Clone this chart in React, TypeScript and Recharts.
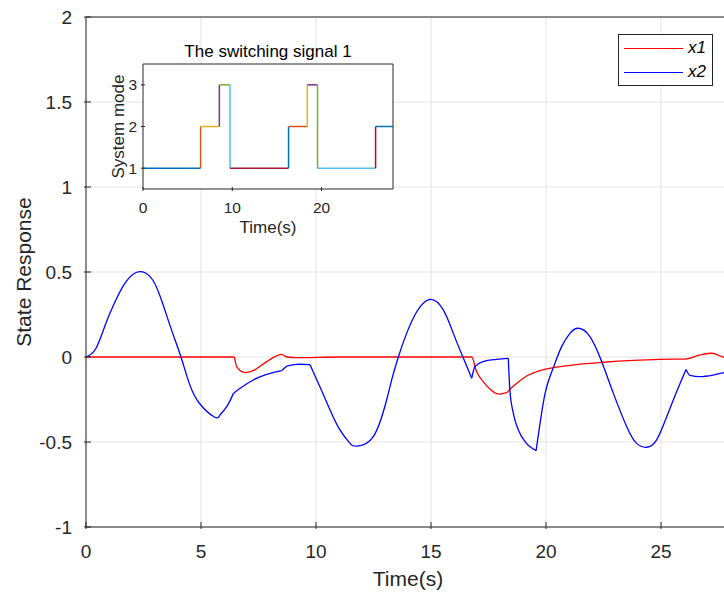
import { LineChart, Line, XAxis, YAxis, CartesianGrid, Legend, Label } from "recharts";

// State response of x1/x2 under switching, with the switching signal as an inset.

const x1Time = [0, 3, 6.43, 6.55, 6.91, 7.27, 7.86, 8.51, 8.73, 9.16, 11, 13, 15, 16.77, 16.98, 17.27, 17.57, 17.93, 18.29, 18.43, 18.73, 19.16, 19.74, 20.32, 21.4, 22.49, 24.96, 26.04, 26.7, 27.2, 27.74, 28];
const x1Value = [0, 0, 0, -0.057, -0.092, -0.08, -0.027, 0.016, 0, -0.004, 0, 0, 0, 0, -0.086, -0.145, -0.19, -0.218, -0.21, -0.19, -0.155, -0.112, -0.08, -0.063, -0.043, -0.031, -0.014, -0.012, 0.012, 0.022, -0.002, -0.01];

const x2Time = [0, 0.43, 0.87, 1.3, 1.74, 2.32, 2.9, 3.33, 3.77, 4.13, 4.49, 4.93, 5.58, 5.83, 6.12, 6.41, 6.7, 7.27, 7.86, 8.51, 8.73, 9.16, 9.74, 10.17, 10.61, 11.04, 11.48, 11.77, 12.49, 13.07, 13.29, 13.58, 13.94, 14.38, 14.96, 15.54, 15.97, 16.41, 16.77, 16.91, 17.27, 17.86, 18.36, 18.43, 18.58, 18.8, 19.09, 19.57, 19.74, 19.96, 20.17, 20.39, 20.68, 21.04, 21.41, 21.91, 22.42, 22.93, 23.51, 23.94, 24.38, 24.81, 25.25, 25.68, 26.09, 26.26, 26.7, 27.27, 27.74, 28];
const x2Value = [0, 0.05, 0.2, 0.335, 0.443, 0.502, 0.453, 0.316, 0.139, 0, -0.155, -0.272, -0.353, -0.341, -0.292, -0.214, -0.184, -0.135, -0.102, -0.08, -0.053, -0.043, -0.045, -0.175, -0.312, -0.429, -0.508, -0.524, -0.469, -0.253, -0.135, 0, 0.139, 0.266, 0.339, 0.276, 0.139, -0.008, -0.125, -0.057, -0.027, -0.014, -0.008, -0.194, -0.331, -0.429, -0.498, -0.551, -0.39, -0.214, -0.116, -0.037, 0.061, 0.139, 0.169, 0.12, -0.027, -0.214, -0.41, -0.508, -0.531, -0.488, -0.351, -0.204, -0.073, -0.108, -0.115, -0.106, -0.092, -0.09];
// times where x2 has a corner (mode switches); curves are smooth between them
const x2Breaks = [6.41, 8.51, 8.73, 9.74, 16.77, 18.36, 19.57, 26.09];
const x2Curves = ["natural", "natural", "linear", "natural", "natural", "monotone", "monotone", "natural", "monotone"];

const mainXTicks = [0, 5, 10, 15, 20, 25];
const mainYTicks = [-1, -0.5, 0, 0.5, 1, 1.5, 2];

const switchTimes = [0, 6.45, 8.55, 9.75, 16.3, 18.4, 19.55, 26.05, 28];
const modes = [1, 2, 3, 1, 2, 3, 1, 2];
const insetXTicks = [0, 10, 20];
const insetYTicks = [1, 2, 3];
const modeColors = ["#0072BD", "#D95319", "#EDB120", "#7E2F8E", "#77AC30", "#4DBEEE", "#A2142F"];

const AXIS = "#262626";
const FONT = '"Liberation Sans", Arial, Helvetica, sans-serif';

const x1Data = x1Time.map((t, i) => ({ t, v: x1Value[i] }));
const x2Data = x2Time.map((t, i) => ({ t, v: x2Value[i] }));
const x2Pieces = x2Curves.map((_, k) => {
  const lo = k === 0 ? -Infinity : x2Breaks[k - 1];
  const hi = k === x2Breaks.length ? Infinity : x2Breaks[k];
  return x2Data.filter((d) => d.t >= lo && d.t <= hi);
});

// stairs: horizontal run at each mode, then the vertical jump to the next one
const modeSegments: { t: number; m: number }[][] = [];
modes.forEach((m, i) => {
  modeSegments.push([
    { t: switchTimes[i], m },
    { t: switchTimes[i + 1], m },
  ]);
  if (i < modes.length - 1) {
    modeSegments.push([
      { t: switchTimes[i + 1], m },
      { t: switchTimes[i + 1], m: modes[i + 1] },
    ]);
  }
});

// MATLAB-style inward ticks
const leftTick = (len: number, gap: number, size: number) => (p: any) => (
  <g>
    <line x1={p.x} x2={p.x + len} y1={p.y} y2={p.y} stroke={AXIS} />
    <text x={p.x - gap} y={p.y} textAnchor="end" dominantBaseline="central" fontSize={size} fill={AXIS}>
      {p.payload.value}
    </text>
  </g>
);
const rightTick = (len: number) => (p: any) => (
  <line x1={p.x} x2={p.x - len} y1={p.y} y2={p.y} stroke={AXIS} />
);
const bottomTick = (len: number, gap: number, size: number) => (p: any) => (
  <g>
    <line x1={p.x} x2={p.x} y1={p.y} y2={p.y - len} stroke={AXIS} />
    <text x={p.x} y={p.y + gap} textAnchor="middle" fontSize={size} fill={AXIS}>
      {p.payload.value}
    </text>
  </g>
);
const topTick = (len: number) => (p: any) => (
  <line x1={p.x} x2={p.x} y1={p.y} y2={p.y + len} stroke={AXIS} />
);

function LegendBox(props: any) {
  // x2 is drawn in pieces; keep one entry per series
  const items = (props.payload || []).filter(
    (e: any, i: number, all: any[]) => all.findIndex((o) => o.value === e.value) === i
  );
  return (
    <div
      style={{
        width: 95,
        height: 52,
        boxSizing: "border-box",
        border: `1px solid ${AXIS}`,
        background: "#fff",
        paddingTop: 1,
        fontFamily: FONT,
      }}
    >
      {items.map((e: any) => (
        <div key={e.value} style={{ display: "flex", alignItems: "center", height: 24 }}>
          <span style={{ display: "inline-block", width: 59, marginLeft: 5, borderTop: `1.3px solid ${e.color}` }} />
          <span style={{ marginLeft: 5, fontStyle: "italic", fontSize: 17, color: "#000" }}>{e.value}</span>
        </div>
      ))}
    </div>
  );
}

export default function App() {
  return (
    <div
      style={{
        position: "absolute",
        left: 0,
        top: 0,
        width: 724,
        height: 592,
        overflow: "hidden",
        background: "#fff",
        fontFamily: FONT,
      }}
    >
      <LineChart width={730} height={592} margin={{ top: 16, right: 0, bottom: 0, left: 0 }}>
        <CartesianGrid stroke="#e3e3e3" />
        <XAxis
          type="number"
          dataKey="t"
          domain={[0, 28]}
          ticks={mainXTicks}
          interval={0}
          height={65}
          axisLine={{ stroke: AXIS }}
          tickLine={false}
          tickSize={0}
          tick={bottomTick(7, 29, 19)}
        >
          <Label value="Time(s)" position="insideBottom" offset={6} style={{ fontSize: 21, fill: AXIS }} />
        </XAxis>
        <XAxis
          xAxisId="top"
          orientation="top"
          type="number"
          domain={[0, 28]}
          ticks={mainXTicks}
          interval={0}
          height={1}
          axisLine={{ stroke: AXIS }}
          tickLine={false}
          tickSize={0}
          tick={topTick(7)}
        />
        <YAxis
          type="number"
          domain={[-1, 2]}
          ticks={mainYTicks}
          interval={0}
          width={86}
          axisLine={{ stroke: AXIS }}
          tickLine={false}
          tickSize={0}
          tick={leftTick(7, 12, 19)}
        >
          <Label
            value="State Response"
            angle={-90}
            position="insideLeft"
            offset={24}
            style={{ textAnchor: "middle", fontSize: 21, fill: AXIS }}
          />
        </YAxis>
        <Legend
          layout="vertical"
          align="center"
          verticalAlign="middle"
          wrapperStyle={{ left: 618, top: 34, width: 95, height: 52 }}
          content={LegendBox}
        />
        <Line data={x1Data} dataKey="v" name="x1" type="monotone" stroke="#ff0000" strokeWidth={1.3} dot={false} isAnimationActive={false} />
        {x2Pieces.map((piece, k) => (
          <Line
            key={k}
            data={piece}
            dataKey="v"
            name="x2"
            type={x2Curves[k] as any}
            stroke="#0000ff"
            strokeWidth={1.3}
            dot={false}
            legendType={k === 0 ? "line" : "none"}
            isAnimationActive={false}
          />
        ))}
      </LineChart>

      <div style={{ position: "absolute", left: 100, top: 30 }}>
        <LineChart width={300} height={210} margin={{ top: 0, right: 6, bottom: 0, left: 0 }}>
          <CartesianGrid horizontal={false} vertical={false} fill="#fff" />
          <XAxis
            type="number"
            dataKey="t"
            domain={[0, 28]}
            ticks={insetXTicks}
            interval={0}
            height={51}
            axisLine={{ stroke: AXIS }}
            tickLine={false}
            tickSize={0}
            tick={bottomTick(4, 22, 15.5)}
          >
            <Label value="Time(s)" position="insideBottom" offset={7} style={{ fontSize: 17, fill: AXIS }} />
          </XAxis>
          <XAxis
            xAxisId="top"
            orientation="top"
            type="number"
            domain={[0, 28]}
            ticks={insetXTicks}
            interval={0}
            height={34}
            axisLine={{ stroke: AXIS }}
            tickLine={false}
            tickSize={0}
            tick={topTick(4)}
          >
            <Label value="The switching signal 1" position="insideTop" offset={15} style={{ fontSize: 17, fill: "#000" }} />
          </XAxis>
          <YAxis
            type="number"
            domain={[0.5, 3.5]}
            ticks={insetYTicks}
            interval={0}
            width={43}
            axisLine={{ stroke: AXIS }}
            tickLine={false}
            tickSize={0}
            tick={leftTick(4, 4, 15.5)}
          >
            <Label
              value="System mode"
              angle={-90}
              position="insideLeft"
              offset={18}
              style={{ textAnchor: "middle", fontSize: 17, fill: AXIS }}
            />
          </YAxis>
          <YAxis
            yAxisId="right"
            orientation="right"
            type="number"
            domain={[0.5, 3.5]}
            ticks={insetYTicks}
            interval={0}
            width={1}
            axisLine={{ stroke: AXIS }}
            tickLine={false}
            tickSize={0}
            tick={rightTick(4)}
          />
          {modeSegments.map((seg, k) => (
            <Line
              key={k}
              data={seg}
              dataKey="m"
              type="linear"
              stroke={modeColors[k % modeColors.length]}
              strokeWidth={1.5}
              dot={false}
              legendType="none"
              isAnimationActive={false}
            />
          ))}
        </LineChart>
      </div>
    </div>
  );
}
